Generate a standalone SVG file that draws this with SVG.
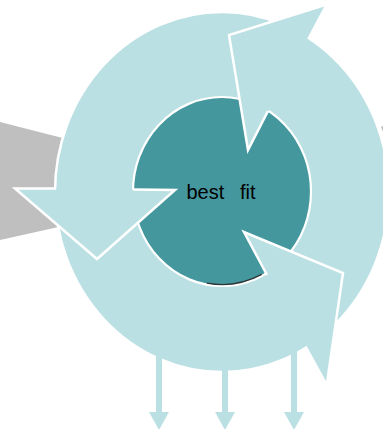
<svg xmlns="http://www.w3.org/2000/svg" width="383" height="429" viewBox="0 0 383 429">
<defs>
<style>
.gray{fill:#bfbfbf}
.ring{fill:#bbe0e3}
.outer{fill:#bbe0e3;stroke:#fff;stroke-width:2.5}
.edge{fill:none;stroke:#fff;stroke-width:2.5;stroke-linejoin:miter;stroke-miterlimit:10}
.core{fill:#45979e;stroke:#fff;stroke-width:2.2}
.shade{fill:none;stroke:#222;stroke-width:1.3;stroke-opacity:0.85}
.conn{stroke:#bbe0e3;stroke-width:6;fill:none}
.lbl{font-family:"Liberation Sans",Arial,sans-serif;font-size:20px;fill:#000}
</style>
</defs>
<g id="gray-left"><polygon class="gray" points="0,122 90,145 90,220 0,240"/></g>
<g id="gray-right"><polygon class="gray" points="381,127 384,125 384,134"/></g>
<g id="cycle-ring"><ellipse class="outer" cx="222" cy="192" rx="167" ry="180"/></g>
<g id="connectors">
  <line class="conn" x1="159" y1="345" x2="159" y2="414"/>
  <polygon class="ring" points="149,412 169,412 159,430"/>
  <line class="conn" x1="225" y1="345" x2="225" y2="414"/>
  <polygon class="ring" points="215,412 235,412 225,430"/>
  <line class="conn" x1="294" y1="340" x2="294" y2="414"/>
  <polygon class="ring" points="284,412 304,412 294,430"/>
</g>
<g id="core">
  <ellipse class="core" cx="222" cy="191.5" rx="89" ry="94.5"/>
  <path class="shade" d="M206.8,283.1 A87.5,93 0 0 0 261.7,274.4"/>
  <text class="lbl"><tspan x="186.5" y="199">best</tspan><tspan x="240" y="199">fit</tspan></text>
</g>
<g id="arrow-top">
  <polygon class="ring" points="229,35 325,5 248,150"/>
  <polyline class="edge" points="268,111 248,150 229,35 325,5"/>
</g>
<g id="arrow-left">
  <polygon class="ring" points="15,188.5 175,190 97,259"/>
  <polyline class="edge" points="56,188.5 15,188.5 97,259 175,190 133,189.5"/>
</g>
<g id="arrow-bottom-right">
  <polygon class="ring" points="244,232 343,273 327,383"/>
  <polyline class="edge" points="267,275 244,232 343,273 327,383"/>
</g>
</svg>
